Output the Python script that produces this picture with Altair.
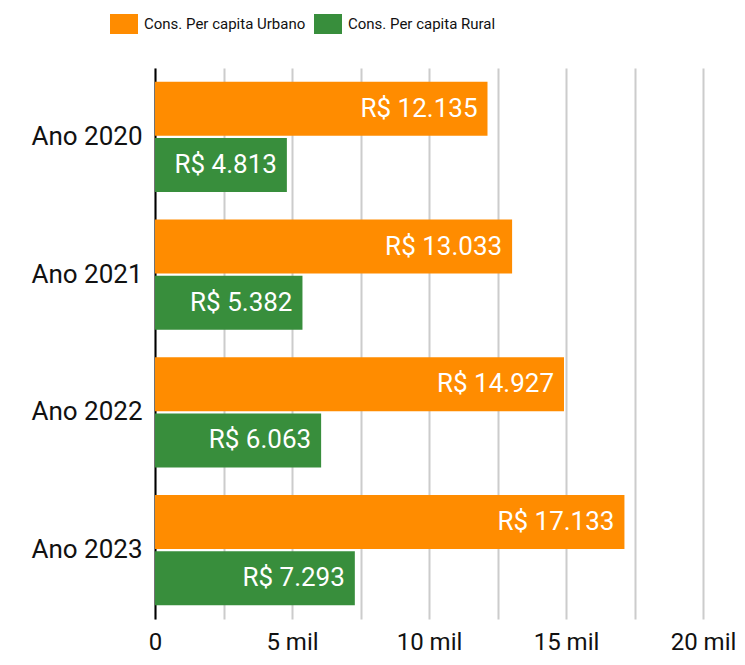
import altair as alt
import pandas as pd

anos = ["Ano 2020", "Ano 2021", "Ano 2022", "Ano 2023"]
series = ["Cons. Per capita Urbano", "Cons. Per capita Rural"]
urbano = [12135, 13033, 14927, 17133]
rural = [4813, 5382, 6063, 7293]
colors = ["#FF8C00", "#388E3C"]

rows = []
for i, a in enumerate(anos):
    for s, vals in zip(series, [urbano, rural]):
        v = vals[i]
        rows.append({"ano": a, "serie": s, "valor": v,
                     "rotulo": "R$ " + f"{v:,}".replace(",", ".")})
df = pd.DataFrame(rows)

FONT = "Roboto"

y = alt.Y("ano:N", sort=anos, title=None,
          scale=alt.Scale(paddingInner=0.2, paddingOuter=0.1),
          axis=alt.Axis(labelFontSize=26, labelFont=FONT, labelColor="#111",
                        ticks=False, labelPadding=13, domainColor="#000",
                        domainWidth=2, grid=False))
yoff = alt.YOffset("serie:N", sort=series,
                   scale=alt.Scale(paddingInner=0.036, paddingOuter=0))
x = alt.X("valor:Q", title=None,
          scale=alt.Scale(domain=[0, 20000], nice=False),
          axis=alt.Axis(values=[0, 2500, 5000, 7500, 10000, 12500, 15000, 17500, 20000],
                        labelExpr="datum.value % 5000 != 0 ? '' : (datum.value == 0 ? '0' : (datum.value/1000) + ' mil')",
                        labelFontSize=24, labelFont=FONT, labelColor="#111",
                        ticks=False, domain=False, labelPadding=11,
                        gridColor="#cccccc", gridWidth=2, labelFlush=False))

bars = alt.Chart(df).mark_bar(cornerRadius=0).encode(
    x=x, y=y, yOffset=yoff,
    color=alt.Color("serie:N", sort=series,
                    scale=alt.Scale(domain=series, range=colors),
                    legend=alt.Legend(title=None, orient="none", direction="horizontal",
                                      legendX=-41, legendY=-54,
                                      symbolType="M-1.4,-1L1.4,-1L1.4,1L-1.4,1Z",
                                      symbolSize=400, symbolStrokeWidth=0,
                                      symbolOpacity=1,
                                      labelFont=FONT, labelFontSize=15,
                                      labelColor="#111", labelOffset=10,
                                      columnPadding=8, labelLimit=400)),
)

labels = alt.Chart(df).mark_text(align="right", baseline="middle", dx=-10,
                                 color="white", fontSize=26, font=FONT).encode(
    x=alt.X("valor:Q"), y=alt.Y("ano:N", sort=anos), yOffset=yoff,
    text="rotulo:N",
)

chart = (bars + labels).properties(
    width=548, height=551,
    autosize=alt.AutoSizeParams(type="none"),
    padding={"left": 147, "top": 60, "right": 34, "bottom": 38},
).configure_view(stroke=None)

chart.save("out.html", embed_options={"renderer": "svg", "actions": False})
